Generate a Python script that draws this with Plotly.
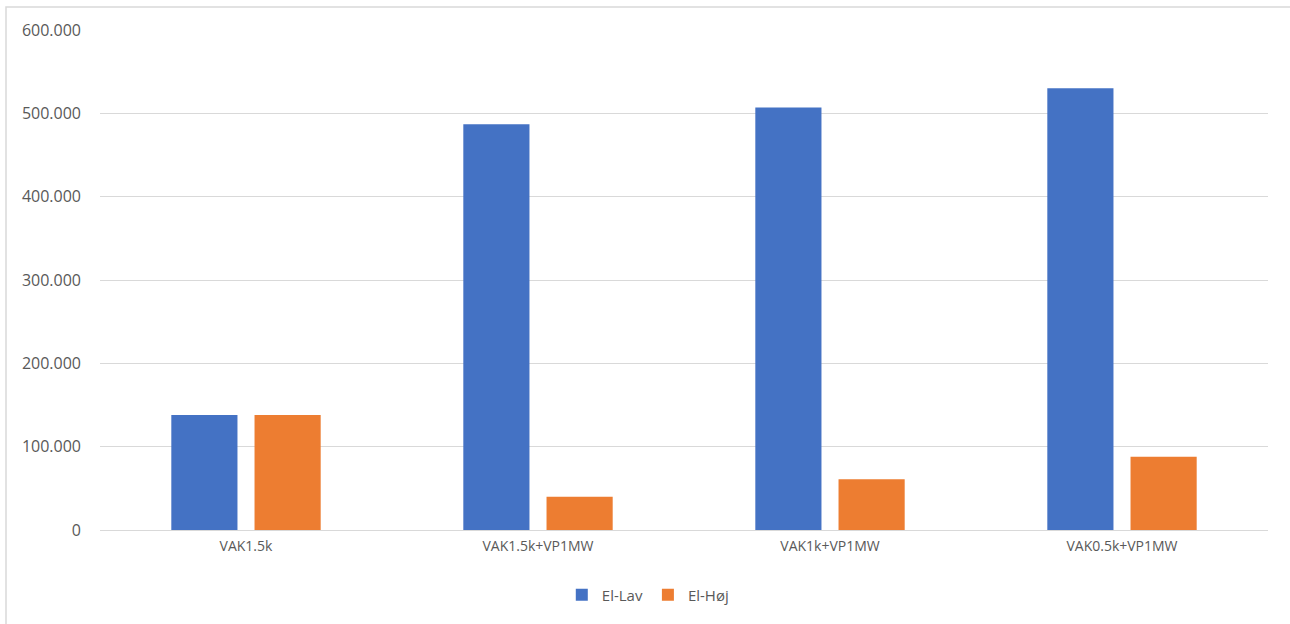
import plotly.graph_objects as go

# Scenarios and annual electricity use per tariff
scenarios = ["VAK1.5k", "VAK1.5k+VP1MW", "VAK1k+VP1MW", "VAK0.5k+VP1MW"]
el_lav = [138000, 487000, 507000, 530000]
el_hoej = [138000, 40000, 61000, 88000]

series_names = ["El-Lav", "El-Høj"]
y_ticks = [0, 100000, 200000, 300000, 400000, 500000, 600000]

BLUE = "#4472C4"
ORANGE = "#ED7D31"
GRID = "#D9D9D9"
TEXT = "#595959"

fig = go.Figure()
fig.add_trace(go.Bar(x=scenarios, y=el_lav, name=series_names[0],
                     marker=dict(color=BLUE, line=dict(width=0))))
fig.add_trace(go.Bar(x=scenarios, y=el_hoej, name=series_names[1],
                     marker=dict(color=ORANGE, line=dict(width=0))))

fig.update_layout(
    width=1290, height=624,
    margin=dict(l=100, r=22, t=30, b=92),
    paper_bgcolor="white", plot_bgcolor="white",
    separators=",.",
    barmode="group", bargap=0.43, bargroupgap=0.205,
    font=dict(family="Open Sans, Noto Sans, sans-serif", size=14, color=TEXT),
    showlegend=True,
    legend=dict(orientation="h", x=0.469, xanchor="center", xref="paper",
                y=-0.13, yanchor="middle", font=dict(size=15, color=TEXT),
                itemwidth=30, tracegroupgap=0),
    xaxis=dict(showgrid=False, showline=False, ticks="",
               tickfont=dict(size=14, color=TEXT), ticklabelstandoff=6),
    yaxis=dict(range=[0, 600000], tickvals=y_ticks, tickformat=",d",
               showgrid=True, gridcolor=GRID, gridwidth=1,
               zeroline=True, zerolinecolor=GRID, zerolinewidth=1,
               showline=False, ticks="", ticklabelstandoff=18,
               tickfont=dict(size=16, color=TEXT)),
    shapes=[dict(type="rect", xref="paper", yref="paper",
                 x0=(6 - 100) / 1168, x1=1.1, y0=-0.3, y1=1 + 23 / 502,
                 line=dict(color=GRID, width=1.5), fillcolor="rgba(0,0,0,0)",
                 layer="below")],
)

fig.write_html("out.html")
